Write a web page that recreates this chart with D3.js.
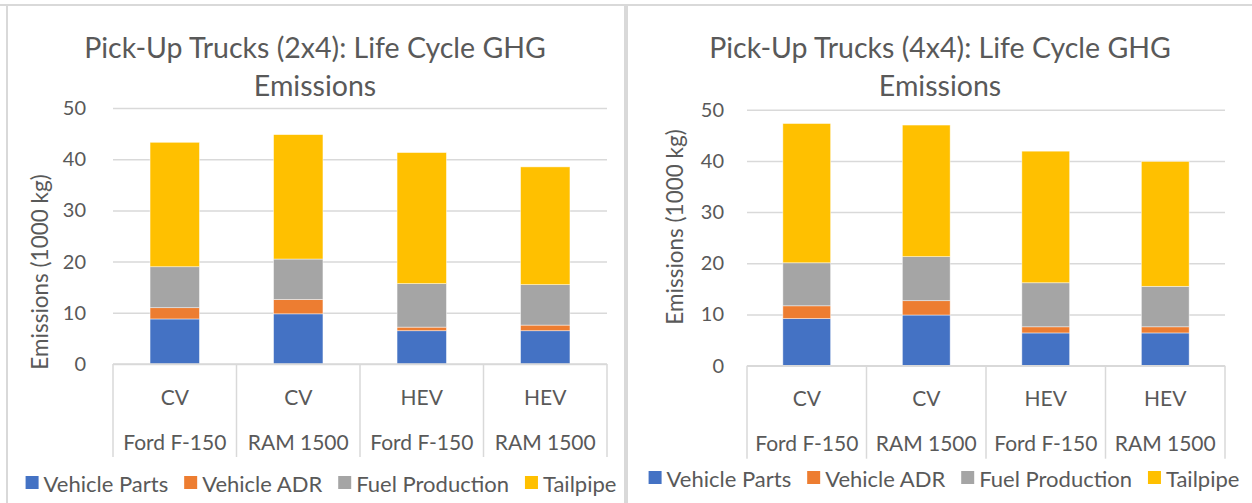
<!DOCTYPE html>
<html>
<head>
<meta charset="utf-8">
<script src="https://cdn.jsdelivr.net/npm/d3@7"></script>
<style>
  body { margin: 0; background: #fff; }
  svg text { font-family: Lato, "Open Sans", sans-serif; fill: #595959; }
</style>
</head>
<body>
<svg id="chart" width="1252" height="503"></svg>
<script>
// ---- data ----
const categories = ["CV", "CV", "HEV", "HEV"];
const models = ["Ford F-150", "RAM 1500", "Ford F-150", "RAM 1500"];
const seriesNames = ["Vehicle Parts", "Vehicle ADR", "Fuel Production", "Tailpipe"];
const seriesColors = ["#4472C4", "#ED7D31", "#A5A5A5", "#FFC000"];
const yTicks = [0, 10, 20, 30, 40, 50];

// 2x4 (1000 kg)
const parts2x4 = [8.8, 9.8, 6.5, 6.5];
const adr2x4   = [2.2, 2.8, 0.7, 1.1];
const fuel2x4  = [8.0, 7.9, 8.5, 7.9];
const tail2x4  = [24.3, 24.3, 25.6, 23.0];

// 4x4 (1000 kg)
const parts4x4 = [9.2, 9.9, 6.4, 6.4];
const adr4x4   = [2.5, 2.8, 1.2, 1.2];
const fuel4x4  = [8.4, 8.6, 8.6, 7.9];
const tail4x4  = [27.2, 25.7, 25.7, 24.4];

const svg = d3.select("#chart");

// frame lines
svg.append("rect").attr("x", 0).attr("y", 4).attr("width", 1252).attr("height", 2).attr("fill", "#D9D9D9");
svg.append("rect").attr("x", 6).attr("y", 4).attr("width", 2).attr("height", 499).attr("fill", "#D9D9D9");
svg.append("rect").attr("x", 624).attr("y", 4).attr("width", 4).attr("height", 499).attr("fill", "#D9D9D9");

function drawChart(opt) {
  var rows = categories.map(function(c, i) {
    return {i: i, "Vehicle Parts": opt.series[0][i], "Vehicle ADR": opt.series[1][i],
            "Fuel Production": opt.series[2][i], "Tailpipe": opt.series[3][i]};
  });
  var stacked = d3.stack().keys(seriesNames)(rows);

  var x = d3.scaleBand()
    .domain(d3.range(categories.length))
    .range([opt.x0, opt.x1])
    .paddingInner(0.6)
    .paddingOuter(0.3);
  var y = d3.scaleLinear().domain([0, 50]).range([opt.base, opt.base - 256]);

  var g = svg.append("g");

  // title
  g.append("text")
    .attr("x", opt.cx).attr("y", 47)
    .attr("text-anchor", "middle").attr("dominant-baseline", "central")
    .style("font-size", "28.5px")
    .text(opt.title);
  g.append("text")
    .attr("x", opt.cx).attr("y", 85)
    .attr("text-anchor", "middle").attr("dominant-baseline", "central")
    .style("font-size", "28.5px")
    .text("Emissions");

  // gridlines + y labels
  var yAxis = g.append("g")
    .attr("transform", "translate(" + opt.x0 + ",0)")
    .call(d3.axisLeft(y).tickValues(yTicks).tickSize(-(opt.x1 - opt.x0)).tickPadding(opt.x0 - opt.labelRight));
  yAxis.select(".domain").remove();
  yAxis.selectAll(".tick line").attr("stroke", "#D9D9D9").attr("stroke-width", 1.5);
  yAxis.selectAll(".tick text")
    .style("font-size", "20px").style("font-family", "Lato, sans-serif").attr("fill", "#595959");

  // y title
  g.append("text")
    .attr("transform", "translate(" + opt.ytx + "," + opt.yty + ") rotate(-90)")
    .attr("text-anchor", "middle").attr("dominant-baseline", "central")
    .style("font-size", "22.5px")
    .text("Emissions (1000 kg)");

  // bars
  g.selectAll("g.series")
    .data(stacked)
    .enter().append("g")
    .attr("class", "series")
    .attr("fill", function(d, i) { return seriesColors[i]; })
    .selectAll("rect")
    .data(function(d) { return d; })
    .enter().append("rect")
    .attr("x", function(d) { return x(d.data.i); })
    .attr("width", x.bandwidth())
    .attr("y", function(d) { return y(d[1]); })
    .attr("height", function(d) { return y(d[0]) - y(d[1]); })
    .attr("stroke", "rgba(255,255,255,0.6)")
    .attr("stroke-width", 0.75);

  // category axis
  var step = x.step();
  g.append("line")
    .attr("x1", opt.x0).attr("x2", opt.x1)
    .attr("y1", opt.base).attr("y2", opt.base)
    .attr("stroke", "#D9D9D9").attr("stroke-width", 1.5);
  d3.range(categories.length + 1).forEach(function(i) {
    g.append("line")
      .attr("x1", opt.x0 + i * step).attr("x2", opt.x0 + i * step)
      .attr("y1", opt.base).attr("y2", opt.base + 93)
      .attr("stroke", "#D9D9D9").attr("stroke-width", 1.5);
  });
  categories.forEach(function(c, i) {
    var cx = x(i) + x.bandwidth() / 2;
    g.append("text")
      .attr("x", cx).attr("y", opt.base + 32)
      .attr("text-anchor", "middle").attr("dominant-baseline", "central")
      .style("font-size", "21px").text(c);
    g.append("text")
      .attr("x", cx).attr("y", opt.base + 77)
      .attr("text-anchor", "middle").attr("dominant-baseline", "central")
      .style("font-size", "21px").text(models[i]);
  });

  // legend
  var leg = g.append("g");
  var xpos = 0;
  seriesNames.forEach(function(name, i) {
    var item = leg.append("g").attr("transform", "translate(" + xpos + ",0)");
    item.append("rect")
      .attr("x", 0).attr("y", -7).attr("width", 13).attr("height", 13)
      .attr("fill", seriesColors[i]);
    var t = item.append("text")
      .attr("x", 18).attr("y", 0)
      .attr("dominant-baseline", "central")
      .style("font-size", "22px").text(name);
    xpos += 18 + t.node().getComputedTextLength() + 16;
  });
  var legW = xpos - 16;
  leg.attr("transform", "translate(" + (opt.legCx - legW / 2) + "," + opt.legY + ")");
}

drawChart({
  title: "Pick-Up Trucks (2x4): Life Cycle GHG",
  series: [parts2x4, adr2x4, fuel2x4, tail2x4],
  x0: 113, x1: 607, base: 364, labelRight: 86,
  cx: 315, ytx: 39, yty: 272, legCx: 321, legY: 483
});

drawChart({
  title: "Pick-Up Trucks (4x4): Life Cycle GHG",
  series: [parts4x4, adr4x4, fuel4x4, tail4x4],
  x0: 747, x1: 1225, base: 365.7, labelRight: 724,
  cx: 940, ytx: 674, yty: 227, legCx: 944, legY: 478
});
</script>
</body>
</html>
